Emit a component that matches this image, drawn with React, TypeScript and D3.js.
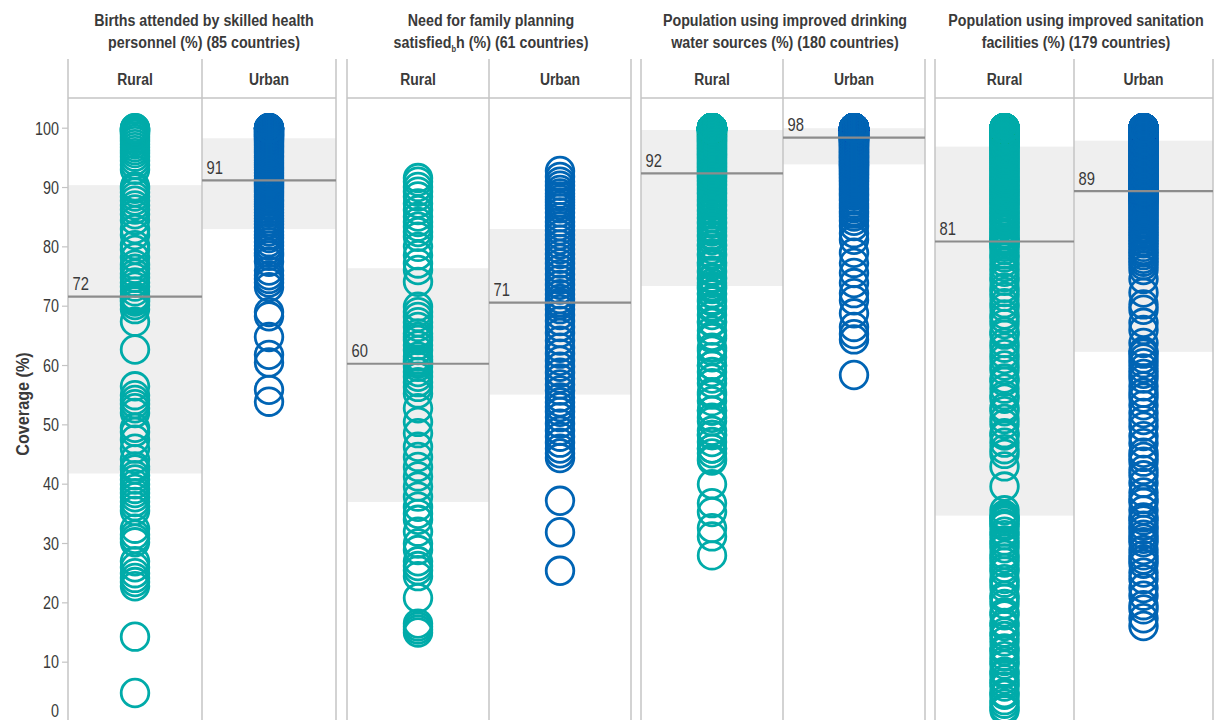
import React from "react";
import * as d3 from "d3";

// ---------- Data ----------
const titleLine1 = [
  "Births attended by skilled health",
  "Need for family planning",
  "Population using improved drinking",
  "Population using improved sanitation",
];
const titleLine2 = [
  "personnel (%) (85 countries)",
  "h (%) (61 countries)",
  "water sources (%) (180 countries)",
  "facilities (%) (179 countries)",
];
const groups = ["Rural", "Urban"];
const yTicks = [0, 10, 20, 30, 40, 50, 60, 70, 80, 90, 100];

const birthsRural = [
  4.8, 14.3, 22.8, 23.5, 24.2, 25.0, 26.0, 27.0, 30.2, 30.8, 31.5, 32.5, 35.5, 36.3, 37.0, 37.8, 38.5, 39.2, 40.0, 40.8, 41.5,
  42.5, 43.0, 44.2, 46.0, 47.5, 48.8, 49.5, 52.0, 52.8, 53.5, 54.2, 55.0, 56.5, 62.7, 67.4, 69.5, 70.2, 70.8, 71.0, 71.3, 71.5,
  71.6,
  72.5, 73.3, 74.0, 74.8, 75.5, 76.3, 77.0, 78.2, 79.5, 80.3, 82.0, 83.0, 84.5, 85.5, 86.3, 87.0, 87.8, 88.5, 89.2, 89.8, 90.2,
  93.0, 93.8, 94.5, 95.2, 95.8, 96.3, 96.8, 97.3, 97.8, 98.2, 98.6, 99.0, 99.2, 99.4, 99.5, 99.6, 99.7, 99.8, 99.9, 100, 100,
];
const birthsUrban = [
  53.9, 55.9, 60.5, 61.8, 64.8, 68.3, 69.0, 73.2, 74.0, 74.6, 75.2, 76.0, 77.5, 78.5, 79.0, 79.6, 80.2, 80.8, 81.5, 82.0, 82.6,
  83.2, 83.8, 84.3, 84.8, 85.3, 85.8, 86.3, 86.8, 87.2, 87.6, 88.0, 88.4, 88.8, 89.2, 89.5, 89.8, 90.1, 90.4, 90.6, 90.8, 91.0,
  91.2,
  91.5, 92.0, 92.5, 93.0, 93.4, 93.8, 94.2, 94.6, 95.0, 95.4, 95.8, 96.1, 96.4, 96.7, 97.0, 97.3, 97.6, 97.8, 98.0, 98.2, 98.3,
  98.5, 98.6, 98.7, 98.8, 98.9, 99.0, 99.1, 99.2, 99.3, 99.4, 99.5, 99.6, 99.7, 99.8, 99.9, 100, 100, 100, 100, 100, 100,
];

const familyRural = [
  15.0, 15.5, 16.0, 16.5, 20.8, 24.5, 25.5, 26.2, 27.0, 28.9, 30.0, 32.0, 34.0, 35.0, 36.2,
  37.9, 39.6, 41.3, 42.9, 44.6, 46.3, 48.6, 50.5, 52.8, 55.3, 56.4, 57.2, 58.1, 58.9, 59.8,
  60.3,
  60.6, 61.0, 61.5, 62.6, 63.4, 64.3, 64.8, 65.4, 66.5, 67.3, 68.2, 69.0, 69.9, 74.1, 76.1,
  77.2, 78.6, 80.0, 81.7, 82.5, 83.4, 84.2, 85.1, 86.2, 87.3, 88.5, 89.3, 90.1, 91.0, 91.6,
];
const familyUrban = [
  25.4, 31.9, 37.2, 44.4, 45.2, 46.0, 47.0, 48.0, 49.0, 50.2, 51.3, 52.2, 53.0, 53.8, 54.6,
  55.8, 56.8, 57.8, 58.8, 59.8, 60.8, 62.0, 63.0, 64.2, 65.5, 66.5, 67.5, 68.5, 69.5, 70.2,
  70.6,
  71.2, 72.0, 72.8, 73.6, 74.5, 75.4, 76.3, 77.2, 78.0, 78.8, 79.6, 80.4, 81.2, 82.0, 82.8,
  83.5, 84.2, 85.0, 85.8, 86.5, 87.0, 87.5, 88.0, 88.5, 89.0, 89.6, 90.3, 91.0, 91.8, 92.8,
];

const waterRural = [
  28.0, 31.2, 32.6, 35.3, 36.8, 40.0, 44.0, 44.3, 45.2, 46.0, 46.0, 47.1, 48.3, 48.3, 49.0,
  50.6, 51.2, 52.4, 52.4, 54.0, 55.1, 55.5, 57.0, 57.8, 58.9, 60.0, 60.0, 61.4, 62.5, 63.0,
  64.6, 65.0, 65.9, 67.2, 67.4, 68.5, 69.6, 70.0, 70.8, 71.1, 72.0, 72.2, 72.9, 73.1, 73.4,
  73.9, 74.6, 74.8, 75.7, 76.0, 76.9, 77.3, 77.4, 78.5, 78.8, 79.6, 80.2, 80.3, 81.1, 81.7,
  82.0, 82.6, 83.0, 83.3, 83.9, 84.2, 84.8, 85.0, 85.5, 86.0, 86.3, 86.9, 87.2, 87.6, 88.0,
  88.4, 88.9, 89.1, 89.6, 89.9, 90.3, 90.6, 91.0, 91.2, 91.5, 91.7, 91.9, 92.1, 92.2, 92.4,
  92.6, 92.8, 93.0, 93.3, 93.5, 93.7, 94.0, 94.1, 94.4, 94.6, 94.8, 95.0, 95.2, 95.5, 95.6,
  95.8, 96.0, 96.2, 96.4, 96.6, 96.7, 96.9, 97.1, 97.3, 97.4, 97.6, 97.8, 97.9, 98.0, 98.2,
  98.3, 98.5, 98.6, 98.7, 98.8, 99.0, 99.1, 99.2, 99.3, 99.4, 99.5, 99.5, 99.6, 99.7, 99.7,
  99.8, 99.8, 99.8, 99.8, 99.8, 99.9, 99.9, 99.9, 99.9, 99.9, 100, 100, 100, 100, 100,
  100, 100, 100, 100, 100, 100, 100, 100, 100, 100, 100, 100, 100, 100, 100,
  100, 100, 100, 100, 100, 100, 100, 100, 100, 100, 100, 100, 100, 100, 100,
];
const waterUrban = [
  58.4, 64.4, 65.3, 66.5, 68.8, 71.0, 72.2, 73.9, 75.6, 77.3, 79.0, 81.2, 82.3, 83.5, 84.4,
  85.1, 85.6, 86.0, 86.5, 86.9, 87.3, 87.8, 88.1, 88.6, 88.9, 89.3, 89.7, 90.0, 90.4, 90.7,
  91.0, 91.2, 91.5, 91.7, 92.0, 92.2, 92.4, 92.6, 92.8, 93.0, 93.2, 93.4, 93.5, 93.7, 93.8,
  93.9, 94.0, 94.2, 94.3, 94.4, 94.6, 94.7, 94.8, 95.0, 95.1, 95.2, 95.4, 95.5, 95.6, 95.8,
  95.9, 96.0, 96.1, 96.3, 96.4, 96.5, 96.6, 96.8, 96.9, 97.0, 97.1, 97.2, 97.3, 97.4, 97.5,
  97.6, 97.7, 97.8, 97.8, 97.9, 98.0, 98.0, 98.1, 98.1, 98.2, 98.2, 98.3, 98.3, 98.4, 98.4,
  98.5, 98.5, 98.5, 98.6, 98.6, 98.6, 98.7, 98.7, 98.7, 98.8, 98.8, 98.8, 98.9, 98.9, 98.9,
  99.0, 99.0, 99.0, 99.1, 99.1, 99.1, 99.2, 99.2, 99.2, 99.3, 99.3, 99.3, 99.4, 99.4, 99.4,
  99.5, 99.5, 99.5, 99.6, 99.6, 99.6, 99.7, 99.7, 99.7, 99.8, 99.8, 99.8, 99.9, 99.9, 99.9,
  100, 100, 100, 100, 100, 100, 100, 100, 100, 100, 100, 100, 100, 100, 100,
  100, 100, 100, 100, 100, 100, 100, 100, 100, 100, 100, 100, 100, 100, 100,
  100, 100, 100, 100, 100, 100, 100, 100, 100, 100, 100, 100, 100, 100, 100,
];

const sanitationRural = [
  1.9, 2.3, 3.0, 3.6, 4.5, 4.8, 5.9, 6.5, 7.1, 8.0, 8.4, 9.6, 10.2, 11.0, 11.9,
  12.3, 13.5, 14.4, 15.0, 16.1, 16.6, 17.9, 18.4, 19.8, 20.7, 21.2, 22.6, 23.4, 24.0, 25.3,
  25.9, 26.8, 27.5, 28.1, 29.2, 29.9, 30.5, 31.4, 32.0, 32.9, 33.3, 33.8, 34.2, 34.5, 34.8,
  35.6, 39.6, 43.0, 45.1, 45.9, 47.0, 48.2, 48.6, 50.1, 51.0, 52.3, 52.9, 54.4, 55.0, 56.1,
  57.3, 57.8, 59.2, 60.0, 61.1, 61.9, 63.0, 63.8, 65.2, 65.7, 67.0, 67.9, 68.6, 69.8, 70.5,
  71.6, 72.4, 73.1, 74.3, 74.9, 75.8, 76.6, 77.4, 78.2, 78.7, 79.5, 80.0, 80.4, 80.8, 80.9,
  81.2, 81.5, 82.0, 82.3, 82.9, 83.1, 83.6, 84.0, 84.4, 84.7, 85.2, 85.5, 86.0, 86.2, 86.8,
  87.1, 87.5, 87.9, 88.2, 88.6, 89.0, 89.3, 89.7, 90.0, 90.4, 90.8, 91.1, 91.5, 91.8, 92.2,
  92.6, 92.9, 93.3, 93.6, 94.0, 94.3, 94.7, 95.0, 95.3, 95.7, 96.0, 96.3, 96.6, 96.9,
  97.1, 97.3, 97.5, 97.7, 97.9, 98.1, 98.3, 98.5, 98.7, 98.9, 99.0, 99.1, 99.2, 99.3, 99.4,
  99.5, 99.6, 99.7, 99.8, 99.9, 100, 100, 100, 100, 100, 100, 100, 100, 100, 100,
  100, 100, 100, 100, 100, 100, 100, 100, 100, 100, 100, 100, 100, 100, 100,
];
const sanitationUrban = [
  16.1, 17.4, 18.9, 19.6, 21.2, 22.5, 24.0, 25.1, 26.6, 27.3, 28.0, 28.9, 30.2, 30.8, 31.5,
  32.3, 33.0, 33.9, 34.4, 35.6, 36.9, 37.5, 38.6, 40.2, 41.5, 42.4, 43.8, 44.6, 45.3, 46.9,
  48.1, 49.7, 50.8, 52.0, 53.3, 54.6, 55.4, 56.5, 57.8, 58.6, 59.5, 60.4, 61.2, 62.0, 62.4,
  63.8, 66.0, 67.2, 69.4, 70.3, 72.3, 74.6, 76.1, 76.9, 77.5, 78.0, 78.6, 79.1, 79.5, 80.0,
  80.6, 81.0, 81.5, 82.0, 82.4, 82.9, 83.3, 83.8, 84.2, 84.6, 85.0, 85.4, 85.8, 86.2, 86.5,
  86.9, 87.2, 87.5, 87.8, 88.0, 88.2, 88.4, 88.6, 88.8, 89.0, 89.1, 89.2, 89.3, 89.4, 89.5,
  89.6, 89.8, 90.0, 90.2, 90.4, 90.6, 90.8, 91.0, 91.2, 91.4, 91.6, 91.8, 92.0, 92.2, 92.4,
  92.6, 92.8, 93.0, 93.2, 93.4, 93.6, 93.8, 94.0, 94.2, 94.4, 94.6, 94.8, 95.0, 95.2, 95.4,
  95.6, 95.8, 96.0, 96.2, 96.4, 96.6, 96.8, 97.0, 97.2, 97.4, 97.5, 97.6, 97.7, 97.8,
  98.0, 98.2, 98.4, 98.6, 98.8, 99.0, 99.2, 99.4, 99.6, 99.8, 100, 100, 100, 100, 100,
  100, 100, 100, 100, 100, 100, 100, 100, 100, 100, 100, 100, 100, 100, 100,
  100, 100, 100, 100, 100, 100, 100, 100, 100, 100, 100, 100, 100, 100, 100,
];

const ruralSeries = [birthsRural, familyRural, waterRural, sanitationRural];
const urbanSeries = [birthsUrban, familyUrban, waterUrban, sanitationUrban];

// medians and interquartile ranges
const medianRural = [71.6, 60.3, 92.4, 80.9];
const medianUrban = [91.2, 70.6, 98.4, 89.4];
const q1Rural = [41.8, 37.0, 73.4, 34.7];
const q3Rural = [90.4, 76.4, 99.7, 96.9];
const q1Urban = [83.0, 55.1, 93.9, 62.3];
const q3Urban = [98.3, 83.0, 100, 97.9];

// ---------- Layout ----------
const W = 1218;
const H = 720;
const panelEdges = [
  [68, 336],
  [347, 631],
  [641, 925],
  [935, 1213],
];
const FONT = "'Liberation Sans', Arial, sans-serif";
const TEXT = "#3a3a3a";
const GRID = "#c4c4c4";
const BAND = "#efefef";
const MEDIAN = "#8c8c8c";
const COLORS: Record<string, string> = { Rural: "#00aba9", Urban: "#0064b4" };
const R = 13.8;
const SX = 0.82;

function NText(props: {
  x: number;
  y: number;
  size: number;
  bold?: boolean;
  anchor?: string;
  sx?: number;
  rotate?: number;
  dy?: string;
  children: React.ReactNode;
}) {
  const { x, y, size, bold, anchor = "start", sx = SX, rotate = 0, dy, children } = props;
  return (
    <text
      transform={`translate(${x},${y}) rotate(${rotate}) scale(${sx},1)`}
      textAnchor={anchor}
      fontSize={size}
      fontWeight={bold ? "bold" : "normal"}
      fill={TEXT}
      dy={dy}
    >
      {children}
    </text>
  );
}

export default function App() {
  const y = d3.scaleLinear().domain([0, 100]).range([721.5, 128.2]);

  return (
    <div style={{ position: "absolute", left: 0, top: 0 }}>
      <svg width={W} height={H} style={{ display: "block", fontFamily: FONT }}>
        <rect x={0} y={0} width={W} height={H} fill="#fff" />
        {/* Y axis */}
        <g>
          {yTicks.map((t) => (
            <g key={t}>
              <line x1={62} x2={68} y1={y(t)} y2={y(t)} stroke={GRID} strokeWidth={1.2} />
              <NText x={59} y={Math.min(y(t), 710.5)} size={17.5} anchor="end" dy="0.36em">
                {t}
              </NText>
            </g>
          ))}
          <NText x={29} y={404} size={18} bold anchor="middle" rotate={-90} sx={0.9}>
            Coverage (%)
          </NText>
        </g>
        {panelEdges.map(([left, right], i) => {
          const x = d3.scaleBand<string>().domain(groups).range([left, right]).padding(0);
          const cx = (left + right) / 2 + 2;
          const bands = [
            { g: "Rural", q1: q1Rural[i], q3: q3Rural[i], med: medianRural[i], vals: ruralSeries[i] },
            { g: "Urban", q1: q1Urban[i], q3: q3Urban[i], med: medianUrban[i], vals: urbanSeries[i] },
          ];
          return (
            <g key={i}>
              {/* title */}
              <NText x={cx} y={26} size={17} bold anchor="middle" sx={0.84}>
                {titleLine1[i]}
              </NText>
              {i === 1 ? (
                <NText x={cx} y={48} size={17} bold anchor="middle" sx={0.84}>
                  satisfied
                  <tspan fontSize={9} dy={4}>b</tspan>
                  <tspan dy={-4}>{titleLine2[i]}</tspan>
                </NText>
              ) : (
                <NText x={cx} y={48} size={17} bold anchor="middle" sx={0.84}>
                  {titleLine2[i]}
                </NText>
              )}
              {/* bands */}
              {bands.map((b) => (
                <rect
                  key={"band" + b.g}
                  x={x(b.g)!}
                  width={x.bandwidth()}
                  y={y(b.q3)}
                  height={y(b.q1) - y(b.q3)}
                  fill={BAND}
                />
              ))}
              {/* frame */}
              <line x1={left} x2={right} y1={98} y2={98} stroke={GRID} strokeWidth={1.3} />
              {[left, x("Urban")!, right].map((lx, k) => (
                <line key={k} x1={lx} x2={lx} y1={59} y2={H} stroke={GRID} strokeWidth={1.5} />
              ))}
              {groups.map((g) => (
                <NText key={g} x={x(g)! + x.bandwidth() / 2} y={85} size={17} bold anchor="middle">
                  {g}
                </NText>
              ))}
              {/* circles */}
              {bands.map((b) => (
                <g key={"c" + b.g}>
                  {b.vals.map((v, j) => (
                    <circle
                      key={j}
                      cx={x(b.g)! + x.bandwidth() / 2}
                      cy={y(v)}
                      r={R}
                      fill="none"
                      stroke={COLORS[b.g]}
                      strokeWidth={2.8}
                    />
                  ))}
                </g>
              ))}
              {/* medians */}
              {bands.map((b) => (
                <g key={"m" + b.g}>
                  <line
                    x1={x(b.g)!}
                    x2={x(b.g)! + x.bandwidth()}
                    y1={y(b.med)}
                    y2={y(b.med)}
                    stroke={MEDIAN}
                    strokeWidth={2.2}
                  />
                  <NText x={x(b.g)! + 4.5} y={y(b.med) - 6.5} size={18}>
                    {Math.round(b.med)}
                  </NText>
                </g>
              ))}
            </g>
          );
        })}
      </svg>
    </div>
  );
}
